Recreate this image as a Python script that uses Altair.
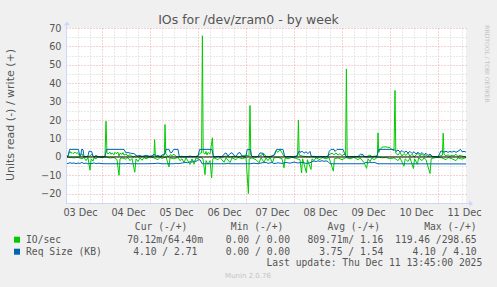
import pandas as pd
import altair as alt

# ---------------- text / labels ----------------
title_text = "IOs for /dev/zram0 - by week"
y_title = "Units read (-) / write (+)"
watermark = "RRDTOOL / TOBI OETIKER"
footer = "Munin 2.0.76"
last_update = "Last update: Thu Dec 11 13:45:00 2025"

# x axis: hours since Dec 3 06:00 (week graph, 200 hours)
day_labels = ["03 Dec", "04 Dec", "05 Dec", "06 Dec", "07 Dec", "08 Dec", "09 Dec", "10 Dec", "11 Dec"]
day_label_hours = [7, 31, 55, 79, 103, 127, 151, 175, 199]
x_major_hours = [18, 42, 66, 90, 114, 138, 162, 186]
x_minor_hours = [0, 6, 12, 24, 30, 36, 48, 54, 60, 72, 78, 84, 96, 102, 108, 120, 126, 132,
                 144, 150, 156, 168, 174, 180, 192, 198]
y_major = [-20, -10, 0, 10, 20, 30, 40, 50, 60, 70]
y_minor = [-15, -5, 5, 15, 25, 35, 45, 55, 65]

# legend table
legend_names = ["IO/sec", "Req Size (KB)"]
legend_colors = ["#00CC00", "#0066B3"]
col_headers = ["Cur (-/+)", "Min (-/+)", "Avg (-/+)", "Max (-/+)"]
cur_vals = ["70.12m/64.40m", "4.10 / 2.71"]
min_vals = ["0.00 / 0.00", "0.00 / 0.00"]
avg_vals = ["809.71m/ 1.16", "3.75 / 1.54"]
max_vals = ["119.46 /298.65", "4.10 / 4.10"]

# ---------------- series (hour, value) ----------------
io_write = [(0, 0.3), (1, 0.5), (1.5, 2.0), (2, 3.0), (2.5, 2.0), (3, 2.4), (3.5, 1.8), (4, 2.2), (4.5, 2.6),
            (5, 1.9), (5.5, 2.3), (6, 2.0), (6.5, 1.2), (7, 0.2), (7.5, 1.5), (8, 1.8), (8.5, 0.4), (9, 0),
            (10, 0.3), (11, 0), (12, 0.5), (13, 1.5), (13.5, 0.2), (14, 0), (16, 0.2), (18, 0), (19.5, 0.3),
            (20, 19.4), (20.5, 2.0), (21, 1.6), (22, 2.6), (22.5, 1.4), (23, 2.2), (24, 1.2), (24.5, 2.5),
            (25, 1.8), (26, 2.6), (26.5, 0.5), (27, 2.0), (28, 1.4), (28.5, 2.4), (29, 1.0), (30, 1.6),
            (31, 0.5), (32, 1.2), (33, 0.3), (34, 0), (35, 0.8), (36, 0), (38, 0.4), (40, 0), (42, 0.3),
            (44, 0.5), (44.3, 9.4), (44.7, 0.4), (46, 0), (48, 0.3), (49.2, 1.0), (49.5, 17.6), (49.9, 1.5),
            (50.5, 1.0), (51, 0), (52, 1.2), (53, 0.8), (54, 1.5), (55, 0.3), (56, 0), (58, 0.4), (60, 0),
            (62, 0.5), (64, 0), (66, 0.6), (67, 2.0), (67.8, 2.2), (68.2, 65.8), (68.6, 2.4), (69.5, 1.5),
            (70, 3.0), (70.5, 1.0), (71, 2.5), (72, 1.5), (73.2, 10.4), (73.6, 1.0), (74, 0), (76, 0.3),
            (78, 0), (80, 0.5), (82, 0), (84, 0.4), (86, 0), (88, 0.5), (90, 1.0), (91.5, 0.5), (92, 27.9),
            (92.4, 1.0), (93, 0.3), (95, 0), (97, 0.5), (99, 1.8), (100, 0.3), (102, 0), (104, 1.0),
            (105, 3.5), (106, 2.5), (107, 4.0), (108, 2.2), (109, 0.5), (110, 0), (112, 0.3), (114, 0),
            (115.8, 0.8), (116.2, 20.0), (116.6, 1.0), (118, 0.5), (120, 0.2), (122, 0), (124, 0.4),
            (126, 0), (128, 0.3), (130, 0), (132, 1.5), (133, 2.0), (134, 1.2), (135, 2.2), (136, 1.0),
            (137, 1.8), (138, 0.6), (139, 1.5), (139.8, 1.0), (140.2, 47.8), (140.6, 0.5), (142, 0),
            (144, 0.3), (146, 0), (148, 0.5), (150, 0), (152, 1.0), (153, 0.2), (155, 0.5), (155.7, 1.0),
            (156, 13.1), (156.4, 2.5), (157, 4.0), (158, 5.3), (160, 5.5), (162, 5.0), (163, 4.0),
            (164, 3.5), (164.5, 36.1), (164.9, 2.0), (166, 1.0), (167, 2.5), (168, 0.5), (169, 1.8),
            (170, 0.8), (171, 2.2), (172, 0.4), (173, 1.5), (174, 0), (175, 1.0), (176, 2.0), (177, 0.5),
            (178, 1.5), (179, 0.3), (180, 1.2), (181, 0), (182, 0.8), (183, 0.2), (185, 0), (187, 0.5),
            (188.2, 1.0), (188.6, 12.9), (189, 1.5), (190, 0.5), (191, 1.2), (192, 0.3), (193, 1.0),
            (194, 0.5), (195, 1.5), (196, 0.2), (197, 1.0), (198, 0.4), (200, 0.1)]

io_read = [(0, 0), (2, -0.3), (4, -0.5), (6, -0.2), (8, -1.0), (9, -0.3), (10, -2.0), (11, -0.5),
           (12, -7.2), (12.6, -1.0), (13.5, -2.3), (14, -0.5), (15, -1.0), (16, 0), (18, -0.4), (20, 0),
           (22, -0.6), (24, -0.3), (25.5, -1.5), (26.5, -10.0), (27, -1.0), (28, -0.5), (30, -1.2),
           (31, -0.3), (32, -2.0), (33, -0.8), (34.4, -8.3), (35, -1.0), (36, -2.5), (37, -0.5),
           (38, -1.8), (39, -0.3), (40, -1.0), (42, 0), (44, -0.5), (46, -1.5), (47, -0.2), (48, -0.8),
           (50, 0), (51.5, -5.4), (52, -0.5), (54, -1.0), (56, -0.3), (57, -2.0), (58, -1.0), (59, -3.0),
           (60, -0.5), (61, -2.2), (62, -4.1), (63, -1.0), (64, -4.0), (65, -0.5), (66, -1.0), (67, 0),
           (68.5, -1.0), (69.5, -9.6), (70, -2.0), (71, -4.0), (72, -2.0), (72.8, -11.4), (73.4, -1.0),
           (74, -0.5), (76, -1.5), (77, -0.3), (79, -2.9), (80, -0.5), (82, -3.0), (83, -0.5), (85, -1.5),
           (86, -0.2), (88, -1.0), (90, -0.3), (91.2, -19.9), (91.6, -1.0), (93, -0.5), (95, -1.5),
           (96.5, -3.2), (97.5, -0.5), (99, -2.9), (100, -0.5), (101, -2.0), (102, -0.3), (103.2, -3.2),
           (104, -0.5), (106, -0.2), (108, -1.0), (109, -5.9), (109.6, -0.5), (111, -1.0), (113, -0.2),
           (115, -0.8), (117, -1.5), (117.8, -8.7), (118.3, -1.0), (120.2, -8.6), (120.7, -1.5),
           (122.5, -6.8), (123, -1.0), (124, -2.0), (125, -0.5), (127, -1.5), (128, -0.3), (130, -1.0),
           (131.5, -0.3), (133.7, -7.7), (134.2, -1.0), (136, -0.5), (138, -1.5), (140, -0.3), (142, -1.0),
           (144, -0.2), (146, -1.5), (147, -0.5), (149, -3.0), (150.3, -6.2), (151, -1.0), (152, -2.5),
           (153, -0.5), (154, -1.5), (156, 0), (158, -0.5), (160, -0.3), (162, -1.0), (164, -0.5),
           (166, -2.0), (167, -0.5), (169, -5.0), (169.6, -1.0), (171, -2.5), (172, -0.5), (173.7, -6.3),
           (174.3, -1.0), (175.7, -4.0), (176.3, -0.5), (178, -2.0), (179, -0.5), (180, -1.5), (182, -9.0),
           (182.6, -1.0), (184, -0.5), (186, -0.2), (188, -0.5), (190, -1.5), (191, -0.3), (193, -1.0),
           (195, -2.0), (196, -0.5), (198, -1.2), (200, -0.3)]

req_write = [(0, 0.2), (1, 0.5), (1.8, 4.1), (6.2, 4.1), (6.8, 1.0), (7.4, 0.8), (7.8, 4.1), (8.5, 4.0),
             (9, 0.3), (10, 0), (11, 0.5), (11.5, 3.1), (12.8, 3.0), (13.5, 0.5), (14, 0), (15, 0.8),
             (16, 0.2), (18, 0), (19.5, 0.3), (20.3, 4.1), (29, 4.1), (30, 2.2), (31, 2.4), (32.3, 2.0),
             (34, 1.8), (35.5, 0.5), (37, 0.8), (38, 0.2), (40, 0.9), (42, 0.3), (43, 0.6), (44, 1.5),
             (45, 0.4), (46, 0.9), (47, 0.2), (48, 1.0), (49.5, 1.8), (50, 4.1), (51.5, 4.1), (52.2, 2.3),
             (53, 2.5), (53.8, 4.1), (56, 4.1), (56.6, 0.5), (57, 0), (66, 0.3), (66.8, 4.1), (73, 4.1),
             (73.6, 0.5), (74, 0), (76, 0.3), (78, 0), (79, 1.5), (80, 2.2), (81, 0.5), (82, 1.8),
             (83, 2.3), (84, 0.8), (85, 0.2), (86, 2.0), (87, 2.4), (88, 0.5), (89, 0), (90, 0.5),
             (90.6, 4.0), (92.2, 4.0), (92.8, 0.5), (94, 0), (96, 0.3), (97, 2.2), (98.5, 2.0), (99, 0.3),
             (101, 0), (103, 0.5), (104.2, 1.0), (105.3, 4.1), (108.5, 4.1), (109.3, 0.5), (110, 0),
             (112, 0.2), (114, 0), (115.5, 0.5), (116.5, 3.1), (117.5, 2.5), (118, 3.2), (119, 2.0),
             (120, 2.8), (121, 1.8), (122, 3.0), (122.6, 0.5), (124, 0), (131, 0.2), (131.6, 3.0),
             (132.5, 4.1), (134, 4.1), (134.5, 3.0), (135.5, 4.1), (138.5, 4.1), (139.2, 2.2), (140, 0.3),
             (141, 0), (146, 0.3), (147.3, 1.5), (148.5, 1.3), (149.2, 0.2), (151, 0), (155.5, 0.2),
             (156.3, 4.1), (164, 4.1), (165, 3.0), (166, 3.8), (167, 2.6), (168, 3.5), (169, 2.4),
             (170, 3.2), (171, 2.2), (172, 3.0), (173, 1.9), (174, 2.8), (175, 1.6), (176, 2.6), (177, 1.4),
             (178, 2.4), (179, 1.2), (180, 2.0), (181, 0.8), (182, 1.6), (183, 0.4), (184, 0.2), (186, 0),
             (187.5, 3.3), (189, 2.6), (190, 3.1), (191, 2.5), (192, 3.0), (193, 2.6), (194, 3.2),
             (195, 2.5), (196, 3.1), (197.3, 4.1), (198, 2.8), (199, 3.0), (200, 2.7)]

req_read = [(0, -3.3), (1, -3.6), (2, -3.1), (3, -3.5), (4, -3.2), (5, -3.7), (6, -3.3), (7, -3.5),
            (8, -3.0), (9, -3.6), (10, -3.3), (11, -3.8), (12, -3.4), (13, -3.6), (14, -3.2), (15, -3.7),
            (16, -3.4), (18, -3.6), (20, -3.7), (30, -3.7), (31, -3.5), (32, -3.7), (40, -3.7), (44, -3.6),
            (46, -3.4), (48, -3.7), (54, -3.7), (55, -3.4), (56, -3.7), (58, -3.3), (60, -3.0), (61, -3.2),
            (62, -2.6), (63, -2.8), (64, -2.2), (65, -2.4), (66, -1.6), (67, -1.5), (68, -3.7), (80, -3.7),
            (81, -3.4), (82, -3.7), (92, -3.7), (94, -3.4), (96, -3.7), (98, -3.2), (100, -3.0),
            (101, -3.5), (103, -3.0), (104, -3.6), (106, -3.2), (108, -3.5), (110, -3.0), (112, -3.4),
            (114, -2.8), (116, -3.3), (118, -2.9), (120, -3.5), (122, -3.2), (123, -2.5), (124, -2.2),
            (125, -2.5), (126, -2.1), (127, -2.4), (128, -2.0), (129, -2.4), (130, -2.1), (131, -2.5),
            (132, -3.7), (149, -3.7), (150, -2.9), (151, -3.3), (152, -2.8), (153, -3.2), (154, -2.9),
            (155, -3.3), (156, -3.7), (200, -3.8)]

# ---------------- styling ----------------
W, H = 400, 175
FONT = "DejaVu Sans"
MONO = "DejaVu Sans Mono"
TXT = "#555555"
AXIS_C = "#CFD6F8"
MINOR_C = "#d2d2d2"
MAJOR_C = "#eea4a4"

xs = alt.Scale(domain=[0, 200], nice=False, zero=False)
ys = alt.Scale(domain=[-25, 70], nice=False, zero=False)

dummy = pd.DataFrame({"h": [0.0], "v": [0.0]})


def series_df(pairs):
    return pd.DataFrame(pairs, columns=["h", "v"])


def none_axis_enc():
    return dict(x=alt.X("h:Q", scale=xs, axis=None), y=alt.Y("v:Q", scale=ys, axis=None))


# minor grid
minor = alt.Chart(dummy).mark_point(opacity=0).encode(
    x=alt.X("h:Q", scale=xs, axis=alt.Axis(values=x_minor_hours, grid=True, gridColor=MINOR_C,
                                           gridDash=[1, 2], gridWidth=1, labels=False, ticks=False,
                                           tickSize=0, domain=False, title=None, orient="top")),
    y=alt.Y("v:Q", scale=ys, axis=alt.Axis(values=y_minor, grid=True, gridColor=MINOR_C,
                                           gridDash=[1, 2], gridWidth=1, labels=False, ticks=False,
                                           tickSize=0, domain=False, title=None, orient="right")),
)

# major grid + y labels
major = alt.Chart(dummy).mark_point(opacity=0).encode(
    x=alt.X("h:Q", scale=xs, axis=alt.Axis(values=x_major_hours, grid=True, gridColor=MAJOR_C,
                                           gridDash=[1, 2], gridWidth=1, labels=False, ticks=False,
                                           tickSize=0, domain=False, title=None, orient="top")),
    y=alt.Y("v:Q", scale=ys, axis=alt.Axis(values=y_major, grid=True, gridColor=MAJOR_C,
                                           gridDash=[1, 2], gridWidth=1, labels=True, ticks=False,
                                           tickSize=0, domain=False, title=None, orient="left",
                                           labelFont=FONT, labelFontSize=9.7, labelColor=TXT,
                                           labelPadding=5, labelBaseline="middle", format="d")),
)

label_expr = "[" + ",".join("'" + d + "'" for d in day_labels) + "][round((datum.value - 7) / 24)]"
xlabels = alt.Chart(dummy).mark_point(opacity=0).encode(
    x=alt.X("h:Q", scale=xs, axis=alt.Axis(values=day_label_hours, grid=False, labels=True, ticks=False,
                                           tickSize=0, domain=False, title=None, orient="bottom",
                                           labelExpr=label_expr, labelFont=FONT, labelFontSize=9.7,
                                           labelColor=TXT, labelPadding=9.5, labelBaseline="middle",
                                           labelAlign="center")),
    y=alt.Y("v:Q", scale=ys, axis=None),
)


def line(pairs, color):
    return alt.Chart(series_df(pairs)).mark_line(color=color, strokeWidth=1, clip=True).encode(**none_axis_enc())


zero = alt.Chart(dummy).mark_rule(color="black", strokeWidth=1).encode(
    y=alt.Y("v:Q", scale=ys, axis=None), x=alt.value(0), x2=alt.value(W))

# axis lines with arrows
axis_left = alt.Chart(dummy).mark_rule(color=AXIS_C, strokeWidth=1).encode(
    x=alt.value(0.5), y=alt.value(-4), y2=alt.value(H + 0.5))
axis_bottom = alt.Chart(dummy).mark_rule(color=AXIS_C, strokeWidth=1).encode(
    x=alt.value(0), x2=alt.value(404), y=alt.value(H + 0.5))
arrow_up = alt.Chart(dummy).mark_point(shape="M-1,0.6L0,-0.7L1,0.6Z", filled=True, size=36,
                                       color=AXIS_C, opacity=1).encode(x=alt.value(0.8), y=alt.value(-4.5))
arrow_right = alt.Chart(dummy).mark_point(shape="M-0.6,-1L0.7,0L-0.6,1Z", filled=True, size=36,
                                          color=AXIS_C, opacity=1).encode(x=alt.value(405), y=alt.value(H + 0.5))


def txt(s, x, y, size=9.7, font=MONO, align="left", color=TXT, angle=0):
    return alt.Chart(dummy).mark_text(text=s, fontSize=size, font=font, align=align, baseline="middle",
                                      color=color, angle=angle).encode(x=alt.value(x), y=alt.value(y))


texts = [
    txt(title_text, 182.5, -8.5, size=12.5, font=FONT, align="center"),
    txt(y_title, -55.5, 87, size=11, font=FONT, align="center", angle=270),
    txt(watermark, 421, 36, size=6, font=FONT, align="center", color="#c4c4c4", angle=90),
    txt(footer, 182, 248, size=7, font=FONT, align="center", color="#c4c4c4"),
    txt(last_update, 416.3, 235.3, align="right"),
]

header_right = [121.3, 217.3, 314, 410.7]
for hdr, xr in zip(col_headers, header_right):
    texts.append(txt(hdr, xr, 199.3, align="right"))

row_y = [211.7, 223.7]
col_right = [[137, 224, 317.3, 410.7], [131.3, 224, 317.3, 410.7]]
for i, name in enumerate(legend_names):
    texts.append(txt(name, -40, row_y[i], align="left"))
    texts.append(alt.Chart(dummy).mark_square(size=36, color=legend_colors[i], opacity=1).encode(
        x=alt.value(-49), y=alt.value(row_y[i])))
    vals = [cur_vals[i], min_vals[i], avg_vals[i], max_vals[i]]
    for v, xr in zip(vals, col_right[i]):
        texts.append(txt(v, xr, row_y[i], align="right"))

chart = alt.layer(
    minor, major, xlabels,
    line(io_read, "#00CC00"), line(io_write, "#00CC00"),
    line(req_read, "#0066B3"), line(req_write, "#0066B3"),
    zero, axis_left, axis_bottom, arrow_up, arrow_right,
    *texts,
).resolve_axis(x="independent", y="independent").properties(
    width=W, height=H,
    autosize=alt.AutoSizeParams(type="none"),
    padding={"left": 66, "top": 28, "right": 31, "bottom": 84},
    background="#F0F0F0",
).configure_view(stroke=None, fill="white")

chart.save("out.html", embed_options={"renderer": "svg", "actions": False})
